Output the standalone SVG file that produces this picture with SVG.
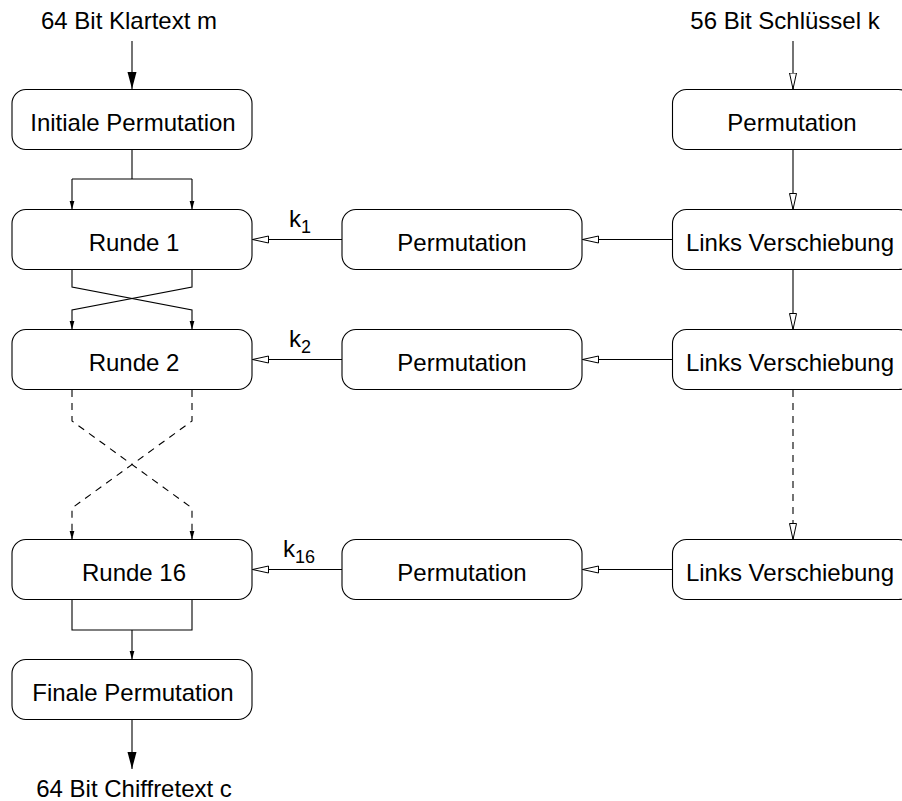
<svg xmlns="http://www.w3.org/2000/svg" width="902" height="801" viewBox="0 0 902 801">
  <style>
    .box { fill: #fff; stroke: #000; stroke-width: 1.1; }
    .lbl { font-family: "Liberation Sans", Arial, sans-serif; font-size: 24px; fill: #000; text-anchor: middle; }
    .key { font-family: "Liberation Sans", Arial, sans-serif; font-size: 24px; fill: #000; }
    .sub { font-size: 18px; }
    .wire { fill: none; stroke: #000; stroke-width: 1.1; }
    .dash { stroke-dasharray: 7 6; }
  </style>
  <defs>
    <marker id="bigFilled" markerUnits="userSpaceOnUse" markerWidth="18" markerHeight="10" refX="17" refY="4.5" orient="auto">
      <path d="M0,0 L17,4.5 L0,9 Z" fill="#000" stroke="none"/>
    </marker>
    <marker id="smallFilled" markerUnits="userSpaceOnUse" markerWidth="10" markerHeight="6" refX="9" refY="2.5" orient="auto">
      <path d="M0,0 L9,2.5 L0,5 Z" fill="#000" stroke="none"/>
    </marker>
    <marker id="openHead" markerUnits="userSpaceOnUse" markerWidth="18" markerHeight="10" refX="16.5" refY="4" orient="auto">
      <path d="M0.5,0.5 L16.5,4 L0.5,7.5 Z" fill="#fff" stroke="#000" stroke-width="1" stroke-dasharray="none"/>
    </marker>
  </defs>

  <!-- inputs and outputs -->
  <text class="lbl" x="129" y="29">64 Bit Klartext m</text>
  <text class="lbl" x="785" y="29">56 Bit Schlüssel k</text>
  <text class="lbl" x="134" y="797">64 Bit Chiffretext c</text>

  <!-- connectors -->
  <g id="connectors">
    <path class="wire" d="M132,41 V89" marker-end="url(#bigFilled)"/>
    <path class="wire" d="M793,41 V89" marker-end="url(#openHead)"/>

    <!-- initial permutation split into two halves -->
    <path class="wire" d="M132,149 V179 M72,179 H192"/>
    <path class="wire" d="M72,179 V209.5" marker-end="url(#smallFilled)"/>
    <path class="wire" d="M192,179 V209.5" marker-end="url(#smallFilled)"/>

    <!-- round 1 to round 2 swap -->
    <path class="wire" d="M72,270 V287 L192,310 V329.5" marker-end="url(#smallFilled)"/>
    <path class="wire" d="M192,270 V287 L72,310 V329.5" marker-end="url(#smallFilled)"/>

    <!-- rounds 3..15 elided -->
    <path class="wire dash" d="M72,390 V421 L192,508 V539.5" marker-end="url(#smallFilled)"/>
    <path class="wire dash" d="M192,390 V421 L72,508 V539.5" marker-end="url(#smallFilled)"/>

    <!-- round 16 merge -->
    <path class="wire" d="M72,600 V630 H192 V600"/>
    <path class="wire" d="M132,630 V659.5" marker-end="url(#smallFilled)"/>
    <path class="wire" d="M132,720 V769" marker-end="url(#bigFilled)"/>

    <!-- subkeys into rounds -->
    <path class="wire" d="M342,239.5 H252.5" marker-end="url(#openHead)"/>
    <path class="wire" d="M342,359.5 H252.5" marker-end="url(#openHead)"/>
    <path class="wire" d="M342,569.5 H252.5" marker-end="url(#openHead)"/>

    <!-- shifted keys into permutations -->
    <path class="wire" d="M672,239.5 H582.5" marker-end="url(#openHead)"/>
    <path class="wire" d="M672,359.5 H582.5" marker-end="url(#openHead)"/>
    <path class="wire" d="M672,569.5 H582.5" marker-end="url(#openHead)"/>

    <!-- key schedule chain -->
    <path class="wire" d="M793,149 V209.5" marker-end="url(#openHead)"/>
    <path class="wire" d="M793,270 V329.5" marker-end="url(#openHead)"/>
    <path class="wire dash" d="M793,390 V539.5" marker-end="url(#openHead)"/>

    <!-- subkey labels -->
    <text class="key" x="289" y="227">k<tspan class="sub" dy="6">1</tspan></text>
    <text class="key" x="289" y="347">k<tspan class="sub" dy="6">2</tspan></text>
    <text class="key" x="283" y="557">k<tspan class="sub" dy="6">16</tspan></text>
  </g>

  <!-- data path -->
  <g id="initial-permutation">
    <rect class="box" x="12" y="89.5" width="240" height="60" rx="14"/>
    <text class="lbl" x="133" y="131">Initiale Permutation</text>
  </g>
  <g id="round-1">
    <rect class="box" x="12" y="209.5" width="240" height="60" rx="14"/>
    <text class="lbl" x="134" y="251">Runde 1</text>
  </g>
  <g id="round-2">
    <rect class="box" x="12" y="329.5" width="240" height="60" rx="14"/>
    <text class="lbl" x="134" y="371">Runde 2</text>
  </g>
  <g id="round-16">
    <rect class="box" x="12" y="539.5" width="240" height="60" rx="14"/>
    <text class="lbl" x="134" y="581">Runde 16</text>
  </g>
  <g id="final-permutation">
    <rect class="box" x="12" y="659.5" width="240" height="60" rx="14"/>
    <text class="lbl" x="133" y="701">Finale Permutation</text>
  </g>

  <!-- subkey permutations -->
  <g id="pc2-1">
    <rect class="box" x="342" y="209.5" width="240" height="60" rx="14"/>
    <text class="lbl" x="462" y="251">Permutation</text>
  </g>
  <g id="pc2-2">
    <rect class="box" x="342" y="329.5" width="240" height="60" rx="14"/>
    <text class="lbl" x="462" y="371">Permutation</text>
  </g>
  <g id="pc2-16">
    <rect class="box" x="342" y="539.5" width="240" height="60" rx="14"/>
    <text class="lbl" x="462" y="581">Permutation</text>
  </g>

  <!-- key schedule -->
  <g id="pc1">
    <rect class="box" x="672.5" y="89.5" width="240" height="60" rx="14"/>
    <text class="lbl" x="792" y="131">Permutation</text>
  </g>
  <g id="shift-1">
    <rect class="box" x="672.5" y="209.5" width="240" height="60" rx="14"/>
    <text class="lbl" x="790" y="251">Links Verschiebung</text>
  </g>
  <g id="shift-2">
    <rect class="box" x="672.5" y="329.5" width="240" height="60" rx="14"/>
    <text class="lbl" x="790" y="371">Links Verschiebung</text>
  </g>
  <g id="shift-16">
    <rect class="box" x="672.5" y="539.5" width="240" height="60" rx="14"/>
    <text class="lbl" x="790" y="581">Links Verschiebung</text>
  </g>
</svg>
